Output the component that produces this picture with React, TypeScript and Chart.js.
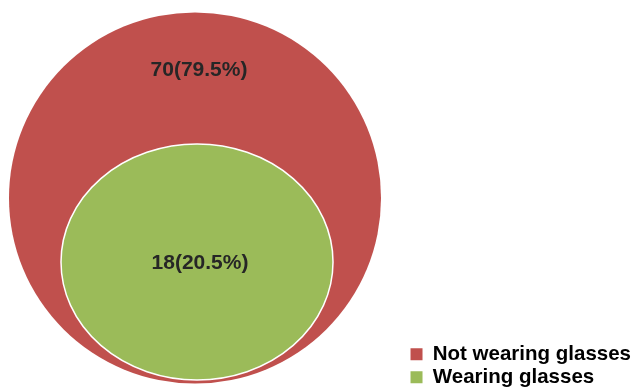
import React, { useEffect, useRef } from "react";
import { Chart, registerables } from "chart.js";
Chart.register(...registerables);

const categories = ["Not wearing glasses", "Wearing glasses"];
const counts = [70, 18];
const percents = [79.5, 20.5];
const colors = ["#C0504D", "#9BBB59"];

// diagram geometry (in axis units = pixels of plot area)
const centersX = [195, 197];
const centersY = [198, 262];
const radiiX = [186, 136];
const radiiY = [185.5, 118];
const labelX = [199, 200];
const labelY = [70, 263];

export default function App() {
  const ref = useRef<HTMLCanvasElement>(null);
  useEffect(() => {
    const shapes = {
      id: "shapes",
      beforeDatasetsDraw(c: any) {
        const ctx = c.ctx;
        const xs = c.scales.x;
        const ys = c.scales.y;
        ctx.save();
        categories.forEach((_, i) => {
          const cx = xs.getPixelForValue(centersX[i]);
          const cy = ys.getPixelForValue(centersY[i]);
          const rx = Math.abs(xs.getPixelForValue(centersX[i] + radiiX[i]) - cx);
          const ry = Math.abs(ys.getPixelForValue(centersY[i] + radiiY[i]) - cy);
          ctx.beginPath();
          ctx.ellipse(cx, cy, rx, ry, 0, 0, Math.PI * 2);
          ctx.fillStyle = colors[i];
          ctx.fill();
          if (i > 0) {
            ctx.lineWidth = 1.5;
            ctx.strokeStyle = "#ffffff";
            ctx.stroke();
          }
        });
        ctx.fillStyle = "#262626";
        ctx.font = "bold 21px Arial";
        ctx.textAlign = "center";
        ctx.textBaseline = "middle";
        categories.forEach((_, i) => {
          const x = xs.getPixelForValue(labelX[i]);
          const y = ys.getPixelForValue(labelY[i]);
          ctx.fillText(`${counts[i]}(${percents[i].toFixed(1)}%)`, x, y);
        });
        ctx.restore();
      },
    };
    const chart = new Chart(ref.current!, {
      type: "scatter",
      data: {
        datasets: categories.map((c, i) => ({
          label: c,
          data: [{ x: centersX[i], y: centersY[i] }],
          backgroundColor: colors[i],
          pointRadius: 0,
        })),
      },
      options: {
        animation: false,
        responsive: true,
        maintainAspectRatio: false,
        layout: { padding: { left: 0, top: 0, bottom: 0, right: -7 } },
        scales: {
          x: { display: false, min: 0, max: 408 },
          y: { display: false, min: 0, max: 390, reverse: true },
        },
        plugins: {
          tooltip: { enabled: false },
          legend: {
            position: "right",
            align: "end",
            labels: {
              boxWidth: 12,
              boxHeight: 12,
              padding: 2.5,
              color: "#262626",
              font: { family: "Arial", size: 20.5, weight: "bold" },
              generateLabels: () =>
                categories.map((c, i) => ({ text: c, fillStyle: colors[i], strokeStyle: colors[i], lineWidth: 0, datasetIndex: i })),
            },
          },
        },
      },
      plugins: [shapes],
    });
    return () => chart.destroy();
  }, []);
  return (
    <div style={{ position: "fixed", left: 0, top: 0, width: 634, height: 390 }}>
      <canvas ref={ref} />
    </div>
  );
}
